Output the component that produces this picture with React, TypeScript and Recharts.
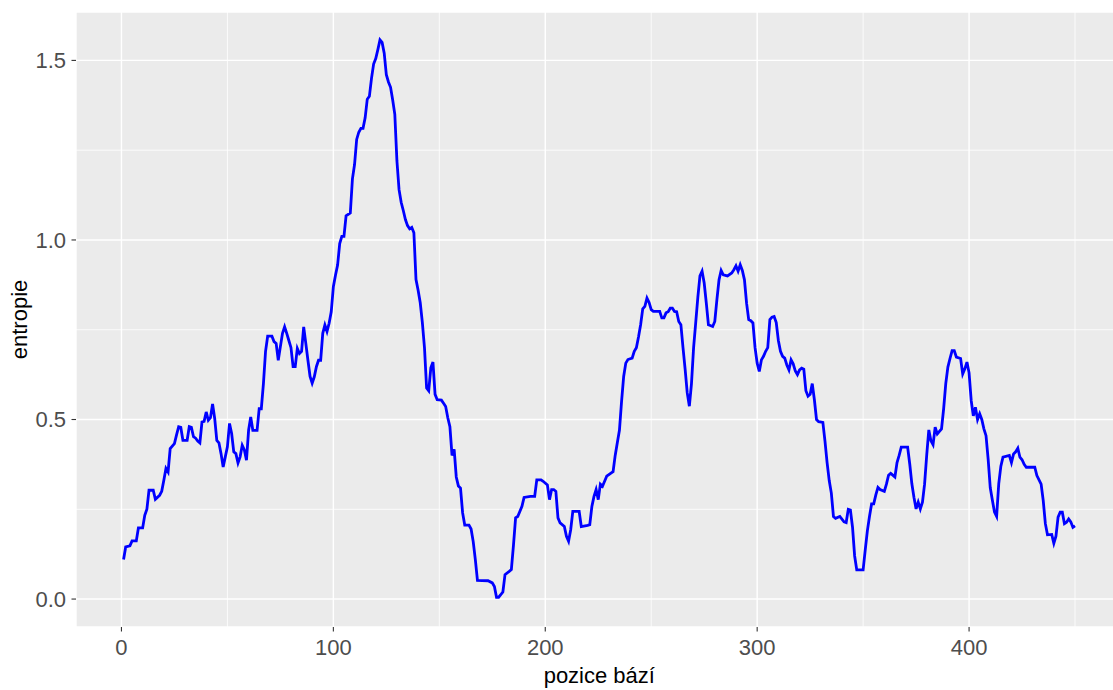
import React from "react"
import { LineChart, Line, XAxis, YAxis, CartesianGrid, ReferenceLine, Label } from "recharts"

// pozice bází (sampled where the curve changes)
const positions = [
  1, 2, 4, 5, 7, 8, 10, 11, 12, 13,
  15, 16, 18, 19, 20, 21, 22, 23, 25, 26,
  27, 28, 29, 31, 32, 33, 34, 35, 36, 37,
  38, 39, 40, 41, 42, 43, 44, 45, 46, 47,
  48, 49, 50, 51, 52, 53, 54, 55, 56, 57,
  58, 59, 60, 61, 62, 64, 65, 66, 67, 68,
  69, 71, 72, 73, 74, 75, 76, 77, 78, 79,
  80, 81, 82, 83, 84, 85, 86, 87, 88, 89,
  90, 91, 92, 93, 94, 95, 96, 97, 98, 99,
  100, 101, 102, 103, 104, 105, 106, 108, 109, 110,
  111, 112, 113, 114, 115, 116, 117, 118, 119, 120,
  121, 122, 123, 124, 125, 126, 127, 128, 129, 130,
  131, 132, 133, 134, 135, 136, 137, 138, 139, 140,
  141, 142, 143, 144, 145, 146, 147, 148, 149, 151,
  152, 153, 154, 155, 156, 157, 158, 159, 160, 161,
  162, 164, 165, 166, 167, 168, 173, 175, 176, 177,
  178, 179, 180, 181, 183, 184, 185, 186, 187, 189,
  190, 193, 195, 196, 198, 199, 201, 202, 203, 204,
  205, 206, 207, 209, 210, 211, 212, 213, 216, 217,
  220, 221, 222, 223, 224, 225, 226, 227, 228, 229,
  231, 232, 233, 234, 235, 236, 237, 238, 239, 241,
  242, 243, 244, 245, 246, 247, 248, 249, 250, 251,
  254, 255, 256, 257, 258, 259, 260, 261, 262, 263,
  264, 265, 266, 267, 268, 269, 270, 271, 272, 273,
  274, 275, 276, 277, 279, 280, 281, 282, 283, 284,
  286, 288, 289, 290, 291, 292, 293, 294, 295, 296,
  297, 298, 299, 300, 301, 302, 303, 304, 305, 306,
  307, 308, 309, 310, 311, 312, 313, 314, 315, 316,
  317, 318, 319, 320, 321, 322, 323, 324, 325, 326,
  327, 328, 329, 331, 332, 333, 334, 335, 336, 337,
  339, 341, 342, 343, 344, 345, 346, 347, 350, 351,
  352, 353, 354, 355, 356, 357, 358, 360, 361, 362,
  363, 364, 365, 366, 367, 368, 371, 372, 373, 374,
  375, 376, 377, 378, 379, 380, 381, 382, 383, 384,
  385, 387, 388, 389, 390, 391, 392, 393, 394, 396,
  397, 398, 399, 400, 401, 402, 403, 404, 405, 406,
  407, 408, 409, 410, 411, 412, 413, 414, 415, 416,
  419, 420, 421, 422, 423, 424, 425, 426, 427, 431,
  432, 434, 435, 436, 437, 439, 440, 441, 442, 443,
  444, 445, 446, 447, 448, 449, 450,
]

// entropie
const entropy = [
  0.11, 0.145, 0.148, 0.162, 0.162, 0.198, 0.198, 0.233, 0.25, 0.303,
  0.303, 0.278, 0.289, 0.3, 0.331, 0.364, 0.354, 0.419, 0.433, 0.457,
  0.48, 0.478, 0.442, 0.442, 0.48, 0.478, 0.452, 0.448, 0.44, 0.435,
  0.493, 0.495, 0.521, 0.498, 0.505, 0.543, 0.503, 0.442, 0.435, 0.405,
  0.368, 0.396, 0.424, 0.489, 0.461, 0.41, 0.405, 0.379, 0.396, 0.428,
  0.415, 0.387, 0.47, 0.507, 0.47, 0.47, 0.53, 0.53, 0.6, 0.69,
  0.732, 0.732, 0.717, 0.712, 0.665, 0.703, 0.74, 0.758, 0.74, 0.72,
  0.7, 0.647, 0.647, 0.698, 0.684, 0.69, 0.758, 0.712, 0.665, 0.62,
  0.601, 0.619, 0.647, 0.665, 0.665, 0.74, 0.763, 0.745, 0.768, 0.8,
  0.87, 0.902, 0.93, 0.99, 1.01, 1.01, 1.067, 1.075, 1.17, 1.21,
  1.28, 1.3, 1.311, 1.311, 1.34, 1.392, 1.4, 1.45, 1.49, 1.505,
  1.53, 1.557, 1.55, 1.52, 1.46, 1.44, 1.425, 1.39, 1.35, 1.22,
  1.14, 1.105, 1.082, 1.057, 1.04, 1.031, 1.035, 1.02, 0.89, 0.86,
  0.825, 0.77, 0.7, 0.588, 0.58, 0.644, 0.66, 0.57, 0.555, 0.554,
  0.545, 0.536, 0.505, 0.48, 0.4, 0.417, 0.34, 0.315, 0.309, 0.24,
  0.206, 0.206, 0.195, 0.16, 0.11, 0.052, 0.051, 0.045, 0.035, 0.005,
  0.005, 0.012, 0.02, 0.068, 0.077, 0.082, 0.15, 0.226, 0.23, 0.258,
  0.283, 0.286, 0.286, 0.332, 0.332, 0.328, 0.318, 0.277, 0.305, 0.305,
  0.3, 0.226, 0.212, 0.202, 0.175, 0.161, 0.193, 0.244, 0.244, 0.202,
  0.205, 0.207, 0.258, 0.286, 0.305, 0.277, 0.32, 0.314, 0.328, 0.342,
  0.351, 0.355, 0.4, 0.435, 0.47, 0.55, 0.62, 0.657, 0.667, 0.671,
  0.69, 0.7, 0.73, 0.764, 0.808, 0.815, 0.838, 0.826, 0.806, 0.801,
  0.801, 0.783, 0.783, 0.797, 0.8, 0.81, 0.81, 0.801, 0.8, 0.773,
  0.764, 0.7, 0.64, 0.574, 0.537, 0.6, 0.7, 0.77, 0.84, 0.9,
  0.913, 0.88, 0.824, 0.764, 0.759, 0.773, 0.834, 0.889, 0.915, 0.903,
  0.9, 0.908, 0.917, 0.928, 0.913, 0.931, 0.915, 0.889, 0.824, 0.778,
  0.775, 0.769, 0.7, 0.657, 0.634, 0.666, 0.676, 0.69, 0.7, 0.778,
  0.785, 0.787, 0.77, 0.72, 0.69, 0.676, 0.671, 0.652, 0.638, 0.666,
  0.655, 0.635, 0.625, 0.638, 0.643, 0.64, 0.58, 0.565, 0.57, 0.6,
  0.555, 0.5, 0.494, 0.492, 0.44, 0.38, 0.33, 0.295, 0.23, 0.225,
  0.23, 0.215, 0.213, 0.25, 0.248, 0.2, 0.12, 0.081, 0.081, 0.137,
  0.19, 0.23, 0.265, 0.265, 0.29, 0.311, 0.305, 0.3, 0.32, 0.345,
  0.35, 0.345, 0.34, 0.38, 0.4, 0.423, 0.423, 0.376, 0.321, 0.283,
  0.251, 0.27, 0.251, 0.27, 0.32, 0.4, 0.471, 0.441, 0.43, 0.479,
  0.46, 0.474, 0.53, 0.6, 0.646, 0.67, 0.692, 0.692, 0.674, 0.67,
  0.627, 0.641, 0.66, 0.63, 0.553, 0.51, 0.534, 0.5, 0.516, 0.5,
  0.474, 0.455, 0.39, 0.31, 0.275, 0.242, 0.23, 0.321, 0.37, 0.395,
  0.4, 0.38, 0.404, 0.41, 0.42, 0.395, 0.388, 0.375, 0.367, 0.367,
  0.344, 0.32, 0.274, 0.21, 0.179, 0.18, 0.155, 0.175, 0.228, 0.242,
  0.242, 0.21, 0.214, 0.223, 0.215, 0.2, 0.204,
]

const xTicks = [0, 100, 200, 300, 400]
const xMinor = [50, 150, 250, 350, 450]
const yTicks = [0, 0.5, 1, 1.5]
const yMinor = [0.25, 0.75, 1.25]

const data = positions.map((p, i) => ({ pos: p, entropie: entropy[i] }))

const FONT = "'Liberation Sans', Arial, sans-serif"

export default function App() {
  return (
    <div style={{ position: "absolute", left: 0, top: 0, width: 1113, height: 690, overflow: "hidden", background: "#fff" }}>
      <LineChart width={1125} height={690} data={data} margin={{ top: 12, right: 2.4, left: 0, bottom: 33 }}>
        <CartesianGrid fill="#EBEBEB" stroke="#FFFFFF" strokeWidth={1.4} />
        <XAxis
          dataKey="pos"
          type="number"
          domain={[-21.45, 472.45]}
          allowDataOverflow
          ticks={xTicks}
          height={30}
          axisLine={false}
          tickLine={{ stroke: "#333333", strokeWidth: 1.1 }}
          tickSize={4.5}
          tickMargin={7.5}
          tick={{ fill: "#4D4D4D", fontSize: 22, fontFamily: FONT }}
        >
          <Label
            content={({ viewBox }: any) => (
              <text x={viewBox.x + viewBox.width / 2} y={viewBox.y + 56} textAnchor="middle" fill="#000" fontSize={22} fontFamily={FONT}>
                pozice bází
              </text>
            )}
          />
        </XAxis>
        <YAxis
          type="number"
          domain={[-0.0778, 1.6348]}
          allowDataOverflow
          ticks={yTicks}
          width={76}
          axisLine={false}
          tickLine={{ stroke: "#333333", strokeWidth: 1.1 }}
          tickSize={4.5}
          tickMargin={5.5}
          tickFormatter={(v: number) => v.toFixed(1)}
          tick={{ fill: "#4D4D4D", fontSize: 22, fontFamily: FONT }}
        >
          <Label
            content={({ viewBox }: any) => {
              const cy = viewBox.y + viewBox.height / 2
              return (
                <text x={27} y={cy} transform={`rotate(-90, 27, ${cy})`} textAnchor="middle" fill="#000" fontSize={22} fontFamily={FONT}>
                  entropie
                </text>
              )
            }}
          />
        </YAxis>
        {xMinor.map((v) => (
          <ReferenceLine key={"x" + v} x={v} stroke="#FFFFFF" strokeWidth={0.8} ifOverflow="hidden" />
        ))}
        {yMinor.map((v) => (
          <ReferenceLine key={"y" + v} y={v} stroke="#FFFFFF" strokeWidth={0.8} />
        ))}
        <Line
          type="linear"
          dataKey="entropie"
          stroke="#0000FF"
          strokeWidth={2.8}
          dot={false}
          activeDot={false}
          isAnimationActive={false}
        />
      </LineChart>
    </div>
  )
}
